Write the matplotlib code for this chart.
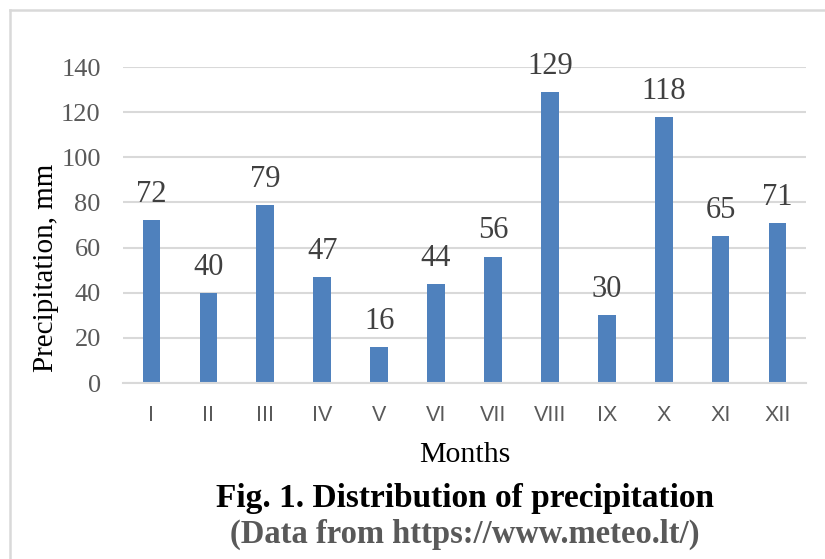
import matplotlib
matplotlib.use("Agg")
import matplotlib.pyplot as plt
from matplotlib.lines import Line2D

months = ["I", "II", "III", "IV", "V", "VI", "VII", "VIII", "IX", "X", "XI", "XII"]
precip = [72, 40, 79, 47, 16, 44, 56, 129, 30, 118, 65, 71]
yticks = [0, 20, 40, 60, 80, 100, 120, 140]

W, H = 825, 559
fig = plt.figure(figsize=(W / 100, H / 100), dpi=100)
ax = fig.add_axes([123 / W, 1 - 383 / H, (806 - 123) / W, (383 - 67) / H])

x = list(range(len(months)))
ax.bar(x, precip, width=0.31, color="#4F81BD", zorder=3)
ax.set_xlim(-0.5, len(months) - 0.5)
ax.set_ylim(0, 140)
ax.set_yticks(yticks)
ax.set_yticklabels([str(v) for v in yticks], family="Liberation Serif",
                   fontsize=19, color="#595959")
ax.set_xticks(x)
ax.set_xticklabels(months, family="Liberation Sans", fontsize=15.5, color="#595959")
ax.tick_params(axis="both", length=0)
ax.tick_params(axis="y", pad=16)
ax.tick_params(axis="x", pad=16)
ax.grid(axis="y", color="#D9D9D9", linewidth=1.5, zorder=0)
for s in ["top", "right", "left"]:
    ax.spines[s].set_visible(False)
ax.spines["bottom"].set_color("#D9D9D9")
ax.spines["bottom"].set_linewidth(1.5)
ax.spines["bottom"].set_zorder(4)

for xi, v in zip(x, precip):
    ax.annotate(str(v), (xi, v), xytext=(0, 8), textcoords="offset points",
                ha="center", va="bottom", family="Liberation Serif",
                fontsize=22, color="#404040")

fig.text(46 / W, 1 - 268 / H, "Precipitation, mm", rotation=90, ha="center",
         va="center", family="Liberation Serif", fontsize=21, color="black")
fig.text(465 / W, 1 - 455 / H, "Months", ha="center", va="center",
         family="Liberation Serif", fontsize=21.5, color="black")
fig.text(465 / W, 1 - 499 / H, "Fig. 1. Distribution of precipitation",
         ha="center", va="center", family="Liberation Serif", fontsize=24,
         fontweight="bold", color="black")
fig.text(465 / W, 1 - 534 / H, "(Data from https://www.meteo.lt/)",
         ha="center", va="center", family="Liberation Serif", fontsize=23.5,
         fontweight="bold", color="#595959")

fig.add_artist(Line2D([10 / W, 10 / W], [0, 1 - 10 / H], transform=fig.transFigure,
                      color="#D9D9D9", linewidth=1.8))
fig.add_artist(Line2D([10 / W, 1], [1 - 10 / H, 1 - 10 / H], transform=fig.transFigure,
                      color="#D9D9D9", linewidth=1.8))

fig.savefig("out.png", dpi=100, facecolor="white")
